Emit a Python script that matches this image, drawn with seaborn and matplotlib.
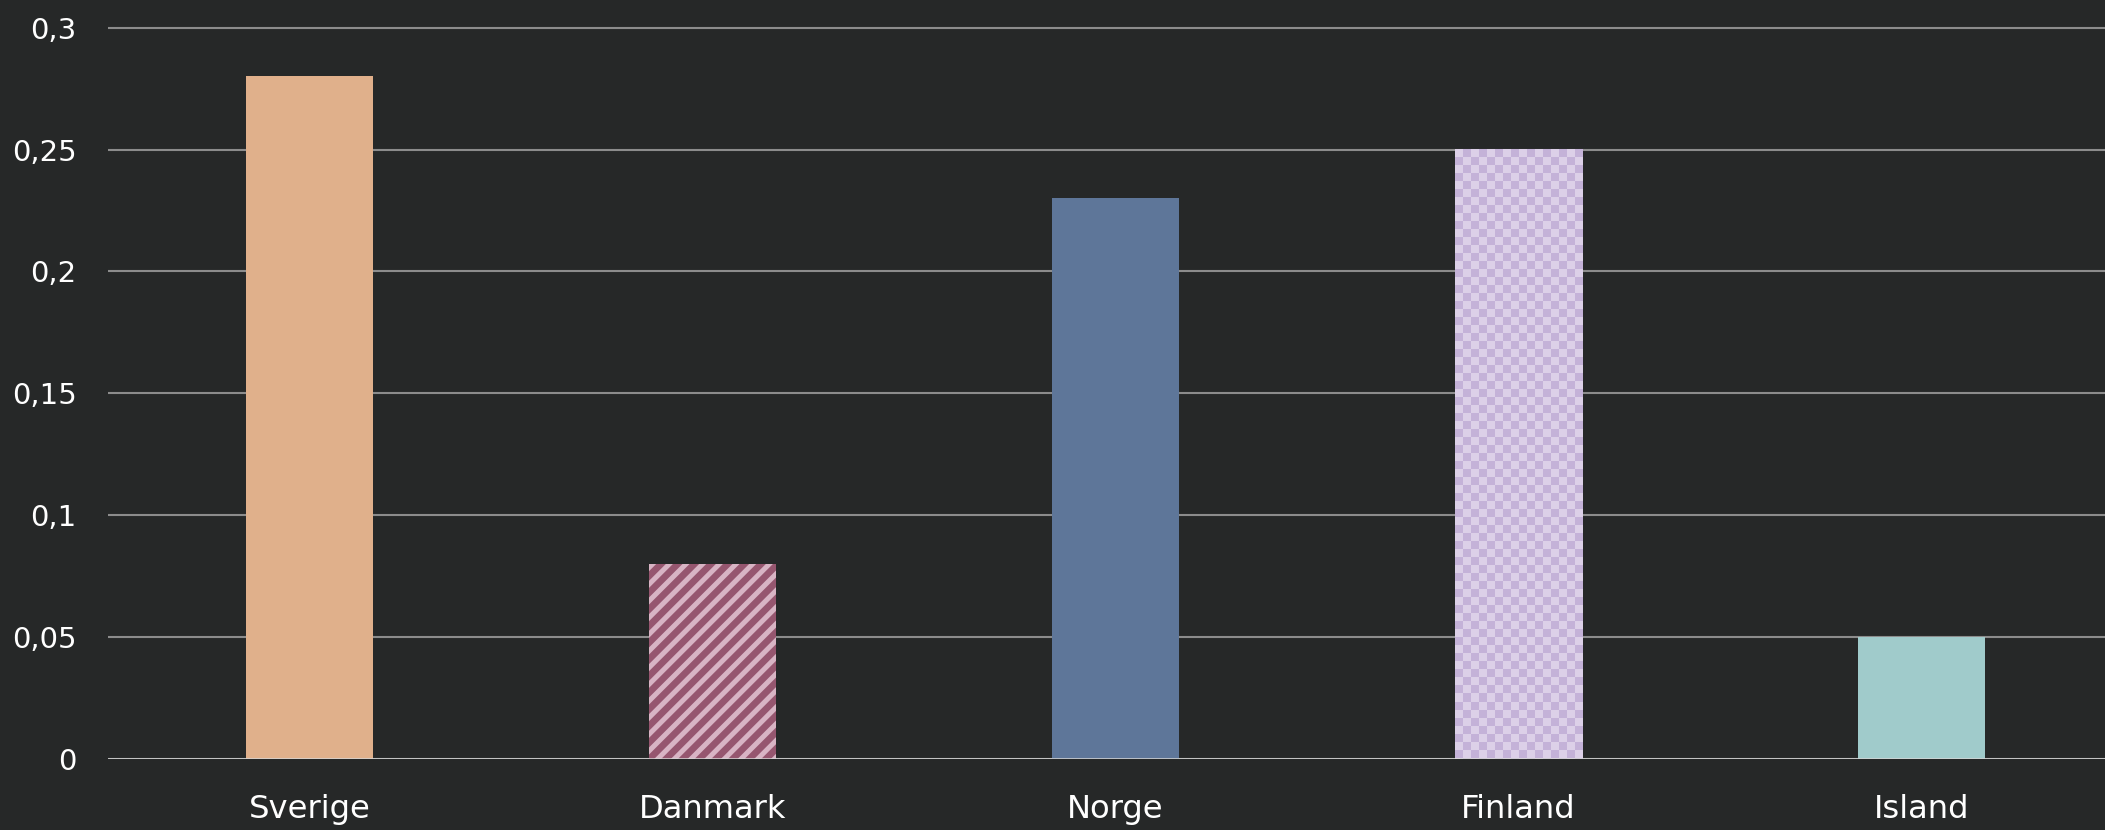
import matplotlib
matplotlib.use("Agg")
import matplotlib.pyplot as plt
import numpy as np
import pandas as pd
import seaborn as sns
from matplotlib.colors import ListedColormap
from matplotlib.ticker import FuncFormatter, MultipleLocator

# Data
countries = ["Sverige", "Danmark", "Norge", "Finland", "Island"]
values = [0.28, 0.08, 0.23, 0.25, 0.05]
bar_colors = ["#E0B08B", "#96566F", "#5E7699", "#C4B2D8", "#A0CBCB"]

BG = "#262828"
DPI = 150

sns.set_style("dark")
plt.rcParams["font.family"] = ["DejaVu Sans"]
plt.rcParams["hatch.linewidth"] = 2.4

df = pd.DataFrame({"land": countries, "verdi": values})

fig = plt.figure(figsize=(2105 / DPI, 830 / DPI), dpi=DPI, facecolor=BG)
ax = fig.add_axes([108 / 2105, 71 / 830, 1997 / 2105, 0.9105])
ax.set_facecolor(BG)

sns.barplot(
    data=df, x="land", y="verdi", hue="land", palette=bar_colors,
    width=0.315, legend=False, ax=ax, saturation=1, linewidth=0, zorder=3,
)

# Danmark: diagonal stripes
p_dk = ax.patches[1]
p_dk.set_hatch("///")
p_dk.set_edgecolor("#D8B4C4")
p_dk.set_linewidth(0)

# Finland: checkerboard overlay clipped to the bar
p_fi = ax.patches[3]
x0, w, h = p_fi.get_x(), p_fi.get_width(), p_fi.get_height()
sx, sy = 8 / 403, 8 / 2437.7
nx, ny = int(np.ceil(w / sx)), int(np.ceil(h / sy))
checker = (np.add.outer(np.arange(ny), np.arange(nx)) % 2).astype(float)
ax.imshow(
    checker, cmap=ListedColormap(["#DCD0E8", "#C4B2D8"]),
    extent=(x0, x0 + nx * sx, h - ny * sy, h), origin="upper",
    aspect="auto", interpolation="nearest", clip_path=p_fi, zorder=4,
)

ax.set_xlim(-0.5, -0.5 + 1997 / 403)
ax.set_ylim(0, 0.31)
ax.yaxis.set_major_locator(MultipleLocator(0.05))
ax.yaxis.set_major_formatter(
    FuncFormatter(lambda v, _: f"{v:.2f}".rstrip("0").rstrip(".").replace(".", ","))
)

ax.grid(axis="y", color="#8C8C8C", linewidth=1.0, zorder=0)
ax.grid(axis="x", visible=False)
ax.axhline(0, color="#D6D6D6", linewidth=1.2, zorder=5)
for s in ax.spines.values():
    s.set_visible(False)

ax.tick_params(axis="y", length=0, pad=15, labelsize=14, labelcolor="white")
ax.tick_params(axis="x", length=0, pad=17, labelsize=15.5, labelcolor="white")
ax.set_xlabel("")
ax.set_ylabel("")

fig.savefig("out.png", dpi=DPI, facecolor=BG)
